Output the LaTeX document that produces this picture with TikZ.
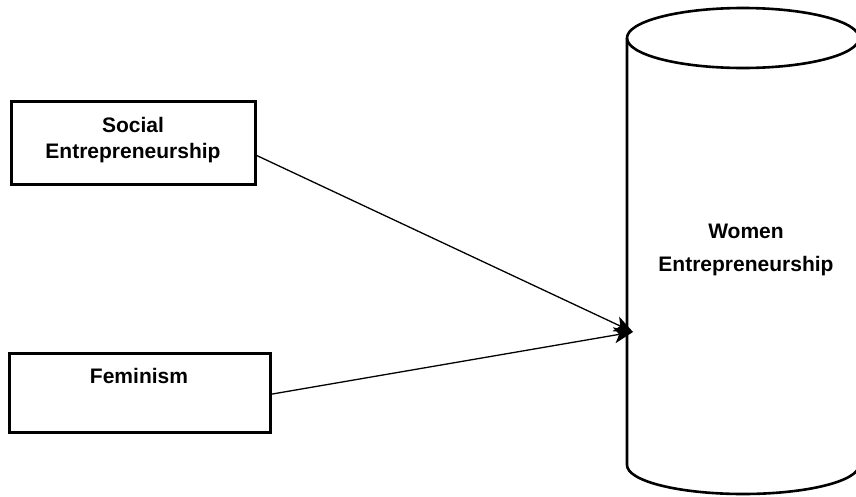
\documentclass[tikz,border=0pt]{standalone}
\usepackage{fontspec}
\setmainfont{Liberation Sans}
\usetikzlibrary{arrows.meta,calc}
\begin{document}
\begin{tikzpicture}[x=1pt,y=-1pt,
  lbl/.style={font=\fontsize{21}{26}\selectfont\bfseries, align=center, inner sep=0pt},
  boxstyle/.style={draw, line width=3pt, inner sep=0pt},
  conn/.style={line width=1.3pt, -{Stealth[length=19pt,width=16pt,inset=5pt]}},
  cyl/.style={line width=2.6pt}]
\useasboundingbox (0,0) rectangle (856,496);
\begin{scope}
\clip (0,0) rectangle (856,496);
% cylinder
\draw[cyl] (627,38) -- (627,465) arc[start angle=180, end angle=0, x radius=116, y radius=29] -- (859,38);
\draw[cyl] (743,38) ellipse[x radius=116, y radius=30];
\end{scope}
\node[lbl] (women) at (746,250) {Women\\[7pt]Entrepreneurship};
\coordinate (tip) at (633,332);
% boxes
\node[boxstyle, minimum width=244pt, minimum height=83pt] (box1) at (133,142.5) {};
\node[lbl] (social) at (133,140) {Social\\Entrepreneurship};
\node[boxstyle, minimum width=261pt, minimum height=79pt] (box2) at (139.5,392.5) {};
\node[lbl] (fem) at (139,375.5) {Feminism};
\coordinate (s1) at ($(box1.north east)!0.65!(box1.south east)$);
\coordinate (s2) at ($(box2.north east)!0.52!(box2.south east)$);
\draw[conn] (s1) -- (tip);
\draw[conn] (s2) -- (tip);
\end{tikzpicture}
\end{document}
